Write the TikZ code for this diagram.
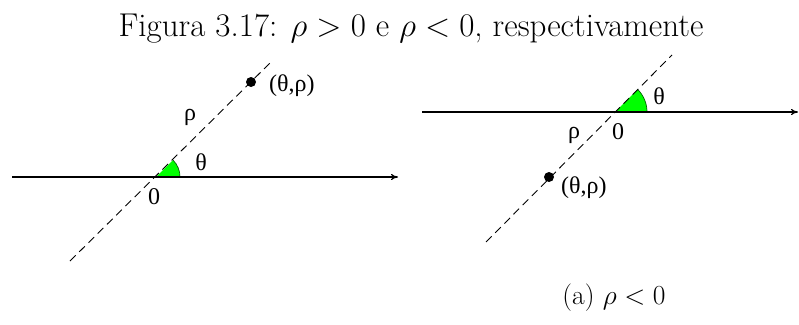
\documentclass[tikz,border=0pt]{standalone}
\usepackage{fontspec}
\newfontfamily\lblfont{Liberation Serif}
\usetikzlibrary{arrows.meta}
\begin{document}
\begin{tikzpicture}[x=1pt,y=-1pt,
  axis/.style={line width=1.2pt,-{To[length=7pt,width=6pt]}},
  ray/.style={line width=0.9pt,dash pattern=on 8pt off 5pt},
  wedge/.style={fill=green},
  wedgearc/.style={draw=black!60!green,line width=0.7pt},
  lbl/.style={font=\lblfont\fontsize{24}{27}\selectfont,inner sep=0pt},
  dot/.style={circle,fill=black,inner sep=0pt,minimum size=10pt},
  titletxt/.style={font=\fontsize{24.88}{30}\selectfont,inner sep=0pt,scale=1.326,transform shape},
  subtxt/.style={font=\fontsize{20.74}{25}\selectfont,inner sep=0pt,scale=1.326,transform shape}]
\path[use as bounding box] (0,0) rectangle (799,324);
\node[titletxt,anchor=base] (title) at (411,36) {Figura 3.17: $\rho>0$ e $\rho<0$, respectivamente};
% left panel
\coordinate (Ls) at (12,177);
\coordinate (Le) at (398,177);
\coordinate (Lo) at (156,177);
\coordinate (Lb) at (70,261);
\coordinate (Lt) at (272,61);
\fill[wedge] (Lo) -- ++(24,0) arc[start angle=0,end angle=-45,radius=24] -- cycle;
\draw[wedgearc] (Lo) ++(24,0) arc[start angle=0,end angle=-45,radius=24];
\draw[axis] (Ls) -- (Le);
\draw[ray] (Lb) -- (Lt);
\node[dot] (Lp) at (251,82) {};
\node[lbl,anchor=west] (Lpl) at (269,86) {(θ,ρ)};
\node[lbl] (Lrho) at (190,117) {ρ};
\node[lbl] (Lth) at (201,162) {θ};
\node[lbl] (Lz) at (154,197) {0};
% right panel
\coordinate (Rs) at (422,112);
\coordinate (Re) at (798,112);
\coordinate (Ro) at (615,112);
\coordinate (Rb) at (486,242);
\coordinate (Rt) at (672,55);
\fill[wedge] (Ro) -- ++(32,0) arc[start angle=0,end angle=-45,radius=32] -- cycle;
\draw[wedgearc] (Ro) ++(32,0) arc[start angle=0,end angle=-45,radius=32];
\draw[axis] (Rs) -- (Re);
\draw[ray] (Rb) -- (Rt);
\node[dot] (Rp) at (549,177) {};
\node[lbl,anchor=west] (Rpl) at (561,188) {(θ,ρ)};
\node[lbl] (Rrho) at (574,135) {ρ};
\node[lbl] (Rth) at (659,96) {θ};
\node[lbl] (Rz) at (618,132) {0};
\node[subtxt] (sub) at (614,298) {(a) $\rho<0$};
\end{tikzpicture}
\end{document}
